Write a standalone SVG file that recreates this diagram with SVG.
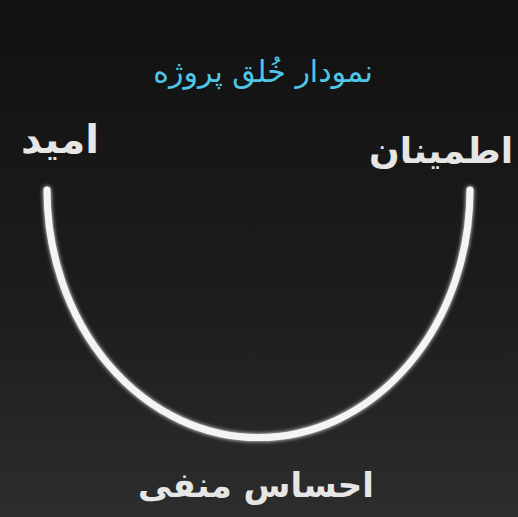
<svg xmlns="http://www.w3.org/2000/svg" width="518" height="517" viewBox="0 0 518 517">
  <defs>
    <linearGradient id="bg" x1="0" y1="0" x2="0" y2="1">
      <stop offset="0" stop-color="#111111"/>
      <stop offset="0.6" stop-color="#1d1d1d"/>
      <stop offset="1" stop-color="#2d2d2d"/>
    </linearGradient>
    <filter id="glow" x="-10%" y="-10%" width="120%" height="120%">
      <feGaussianBlur stdDeviation="2" result="b"/>
      <feMerge><feMergeNode in="b"/><feMergeNode in="SourceGraphic"/></feMerge>
    </filter>
  </defs>
  <style>
    .lbl { font-family: "DejaVu Sans", "Noto Sans", sans-serif; fill: #e6e6e6; font-weight: bold; direction: rtl; text-anchor: middle; }
    .title { font-family: "DejaVu Sans", "Noto Sans", sans-serif; fill: #4fc6e6; direction: rtl; text-anchor: middle; }
  </style>
  <rect x="0" y="0" width="518" height="517" fill="url(#bg)"/>
  <g id="connectors">
    <path d="M 47 190 A 211 247 0 0 0 470 190" fill="none" stroke="#f4f4f4" stroke-width="7" stroke-linecap="round" filter="url(#glow)"/>
  </g>
  <g id="title">
    <text class="title" x="263" y="82" font-size="30">نمودار خُلق پروژه</text>
  </g>
  <g id="omid">
    <text class="lbl" x="60" y="153" font-size="40">امید</text>
  </g>
  <g id="etminan">
    <text class="lbl" x="441" y="163" font-size="36">اطمینان</text>
  </g>
  <g id="ehsas">
    <text class="lbl" x="256" y="497" font-size="34">احساس منفی</text>
  </g>
</svg>
